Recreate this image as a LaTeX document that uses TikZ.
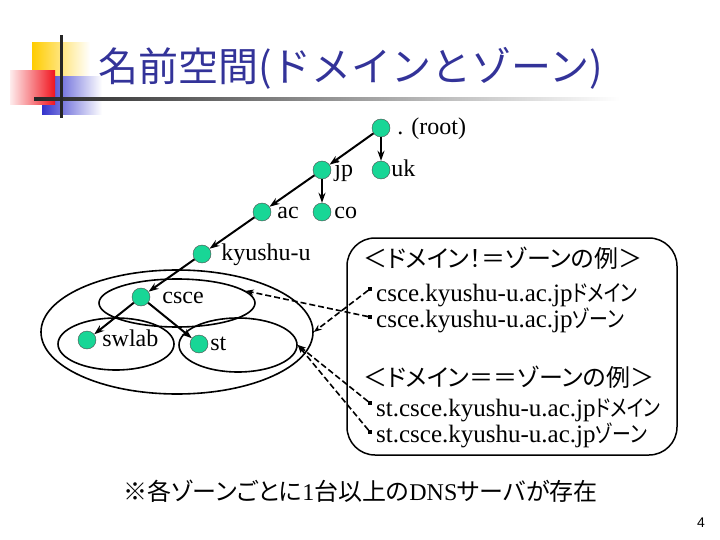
\documentclass[tikz,border=0pt]{standalone}
\usepackage{fontspec}
\setmainfont{Liberation Serif}
\newfontfamily\jpfont[RawFeature=+palt]{Noto Sans CJK JP}
\newfontfamily\jpnarrow[RawFeature=+palt, FakeStretch=0.82]{Noto Sans CJK JP}
\newfontfamily\titlefont{Noto Sans CJK JP}
\newfontfamily\pagefont{Liberation Sans}
\usetikzlibrary{shapes.geometric, arrows.meta, positioning, calc}
\definecolor{Title_Blue}{RGB}{51,51,153}
\definecolor{Node_Green}{RGB}{24,214,150}
\definecolor{Deco_Yellow}{RGB}{255,204,0}
\definecolor{Deco_Red}{RGB}{240,20,30}
\definecolor{Deco_Blue}{RGB}{51,51,204}
\newcommand{\jp}[1]{{\jpfont #1}}
\newcommand{\jps}[1]{{\jpnarrow\fontsize{23}{26}\selectfont #1}}

\begin{document}
\begin{tikzpicture}[
    x=1pt, y=-1pt,
    dom/.style={circle, draw=black!70, fill=Node_Green, minimum size=18pt, inner sep=0pt},
    lbl/.style={inner sep=0pt, text height=13pt, text depth=0pt, font=\fontsize{24}{28}\selectfont},
    tree/.style={-{Stealth[length=10pt, width=7pt]}, line width=2pt},
    zone/.style={ellipse, draw, line width=1.6pt, inner sep=0pt},
    ref/.style={-{Stealth[length=8pt, width=6pt]}, line width=1.6pt, dash pattern=on 6pt off 3pt},
    bullet/.style={rectangle, fill=black, minimum size=3.5pt, inner sep=0pt},
    line/.style={anchor=base west, inner sep=0pt, font=\fontsize{25}{28}\selectfont}
]
\useasboundingbox (0,0) rectangle (720,540);

% title decoration
\shade[left color=Deco_Yellow, middle color=Deco_Yellow, right color=white] (32,43) rectangle (90,78);
\shade[left color=Deco_Blue, middle color=Deco_Blue!70, right color=white] (42,77) rectangle (102,115);
\shade[left color=Deco_Red!8, right color=Deco_Red] (10,71) rectangle (55,105);
\shade[left color=black!85, right color=white] (34,97.5) rectangle (620,100.5);
\fill[black!85] (60,35) rectangle (62.5,118);
\node[anchor=west, inner sep=0pt, text=Title_Blue, font=\titlefont\fontsize{40}{44}\selectfont] (title) at (98,68)
    {名前空間(ドメインとゾーン)};

% zones
\node[zone, minimum width=272pt, minimum height=124pt] (outer) at (177,332) {};
\node[zone, minimum width=156pt, minimum height=48pt] (zcsce) at (177,303) {};
\node[zone, minimum width=116pt, minimum height=52pt] (zswlab) at (116,344) {};
\node[zone, minimum width=118pt, minimum height=54pt] (zst) at (238,345) {};

% domain tree
\node[dom] (root) at (381,128) {};
\node[dom] (jp) at (322,170) {};
\node[dom] (uk) at (381,170) {};
\node[dom] (ac) at (262,212) {};
\node[dom] (co) at (322,212) {};
\node[dom] (kyushu) at (202,254) {};
\node[dom] (csce) at (141,297) {};
\node[dom] (swlab) at (87,340) {};
\node[dom] (st) at (199,344) {};

\node[lbl, right=7pt of root] (rootlbl) {. (root)};
\node[lbl, right=3pt of jp] (jplbl) {jp};
\node[lbl, right=1pt of uk] (uklbl) {uk};
\node[lbl, right=6pt of ac] (aclbl) {ac};
\node[lbl, right=3pt of co] (colbl) {co};
\node[lbl, right=10pt of kyushu] (kyushulbl) {kyushu-u};
\node[lbl, right=12pt of csce] (cscelbl) {csce};
\node[lbl, right=6pt of swlab] (swlablbl) {swlab};
\node[lbl, right=2pt of st] (stlbl) {st};

\draw[tree] (root) -- (jp);
\draw[tree] (root) -- (uk);
\draw[tree] (jp) -- (ac);
\draw[tree] (jp) -- (co);
\draw[tree] (ac) -- (kyushu);
\draw[tree] (kyushu) -- (csce);
\draw[tree] (csce) -- (swlab);
\draw[tree] (csce) -- (st);

% examples box
\node[draw, line width=1.5pt, rounded corners=28pt, minimum width=330pt, minimum height=217pt] (box) at (512,346.5) {};
\node[line, font=\fontsize{24}{28}\selectfont] (neq) at (363,267) {\jp{＜ドメイン！＝ゾーンの例＞}};
\node[bullet] (b1) at (370,289) {};
\node[line] (t1) at (376,301) {csce.kyushu-u.ac.jp\jps{ドメイン}};
\node[bullet] (b2) at (370,317) {};
\node[line] (t2) at (376,327) {csce.kyushu-u.ac.jp\jps{ゾーン}};
\node[line, font=\fontsize{24}{28}\selectfont] (eq) at (363,386) {\jp{＜ドメイン＝＝ゾーンの例＞}};
\node[bullet] (b3) at (370,403) {};
\node[line] (t3) at (376,416) {st.csce.kyushu-u.ac.jp\jps{ドメイン}};
\node[bullet] (b4) at (370,432) {};
\node[line] (t4) at (376,442) {st.csce.kyushu-u.ac.jp\jps{ゾーン}};

\draw[ref] (b1) -- (outer.east);
\draw[ref] (b2) -- (zcsce.10);
\draw[ref] (b3) -- (zst.east);
\draw[ref] (b4) -- (zst.east);

% note and page number
\node[line, font=\fontsize{24}{28}\selectfont] (note) at (123,500) {\jp{※各ゾーンごとに}1\jp{台以上の}DNS\jp{サーバが存在}};
\node[anchor=base, inner sep=0pt, font=\pagefont\fontsize{14}{16}\selectfont] (page) at (701,527) {4};
\end{tikzpicture}
\end{document}
